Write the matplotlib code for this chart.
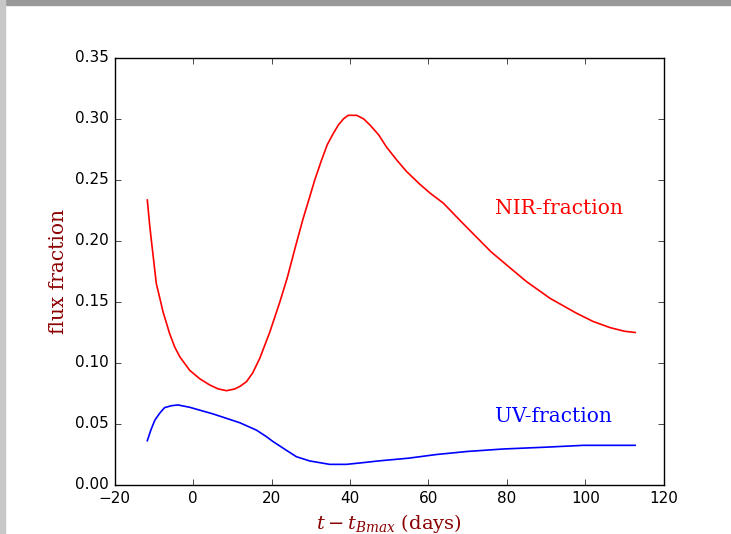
import matplotlib
matplotlib.use('Agg')
import matplotlib.pyplot as plt
from matplotlib.patches import Rectangle

# NIR fraction (red)
t_nir = [-11.7, -11.1, -10.4, -9.4, -8.5, -7.7, -6.0, -4.7, -3.4, -0.9, 1.7, 4.2, 6.4,
         8.5, 10.6, 12.0, 13.6, 15.2, 17.0, 19.5, 22.1, 24.0, 26.3, 28.0, 29.7, 31.0,
         32.7, 34.2, 35.7, 37.0, 38.3, 39.5, 41.7, 43.5, 45.1, 47.3, 49.3, 52.0, 54.4,
         57.8, 60.5, 63.8, 68.0, 72.3, 76.0, 80.8, 85.0, 91.0, 97.8, 102.0, 106.3,
         110.0, 112.7]
f_nir = [0.2336, 0.213, 0.193, 0.165, 0.153, 0.142, 0.124, 0.113, 0.105, 0.094, 0.087,
         0.082, 0.0787, 0.0773, 0.0787, 0.081, 0.0847, 0.092, 0.104, 0.125, 0.150,
         0.170, 0.198, 0.218, 0.236, 0.250, 0.266, 0.279, 0.288, 0.295, 0.300, 0.303,
         0.303, 0.300, 0.295, 0.287, 0.277, 0.266, 0.257, 0.2465, 0.239, 0.231, 0.217,
         0.203, 0.191, 0.178, 0.1667, 0.153, 0.1407, 0.134, 0.129, 0.126, 0.125]

# UV fraction (blue)
t_uv = [-11.7, -10.8, -9.8, -8.5, -7.3, -5.5, -3.9, -0.9, 5.1, 11.9, 16.1, 18.5, 20.4,
        23.5, 26.3, 29.7, 34.8, 39.1, 43.3, 47.2, 55.0, 62.1, 70.0, 79.1, 90.0, 99.5,
        106.0, 112.7]
f_uv = [0.0363, 0.045, 0.053, 0.059, 0.0634, 0.065, 0.0656, 0.0637, 0.0582, 0.051,
        0.045, 0.040, 0.0355, 0.029, 0.0232, 0.0197, 0.0169, 0.0169, 0.0183, 0.0197,
        0.022, 0.025, 0.0275, 0.0295, 0.031, 0.0325, 0.0325, 0.0325]

plt.style.use('classic')
plt.rcParams['mathtext.fontset'] = 'dejavuserif'
fig = plt.figure(figsize=(7.31, 5.34), dpi=100, facecolor='white')
ax = fig.add_axes([0.157, 0.0918, 0.751, 0.7996])

ax.plot(t_nir, f_nir, color='red', lw=1.2)
ax.plot(t_uv, f_uv, color='blue', lw=1.2)

ax.set_xlim(-20, 120)
ax.set_ylim(0, 0.35)
ax.set_xticks(range(-20, 121, 20))
ax.set_yticks([0.0, 0.05, 0.10, 0.15, 0.20, 0.25, 0.30, 0.35])
ax.set_yticklabels(['0.00', '0.05', '0.10', '0.15', '0.20', '0.25', '0.30', '0.35'])
ax.tick_params(labelsize=11)

ax.set_xlabel(r'$t-t_{Bmax}$ (days)', color='darkred', family='DejaVu Serif', fontsize=14)
ax.set_ylabel('flux fraction', color='darkred', family='DejaVu Serif', fontsize=14.5)

ax.text(77, 0.222, 'NIR-fraction', color='red', family='DejaVu Serif', fontsize=14.5)
ax.text(77, 0.0515, 'UV-fraction', color='blue', family='DejaVu Serif', fontsize=14.5)

# screenshot frame
fig.patches.append(Rectangle((0, 0.99), 1, 0.01, transform=fig.transFigure,
                             color='#999999', zorder=-1))
fig.patches.append(Rectangle((0, 0), 0.007, 1, transform=fig.transFigure,
                             color='#c8c8c8', zorder=-1))

fig.savefig('out.png', dpi=100, facecolor='white')
